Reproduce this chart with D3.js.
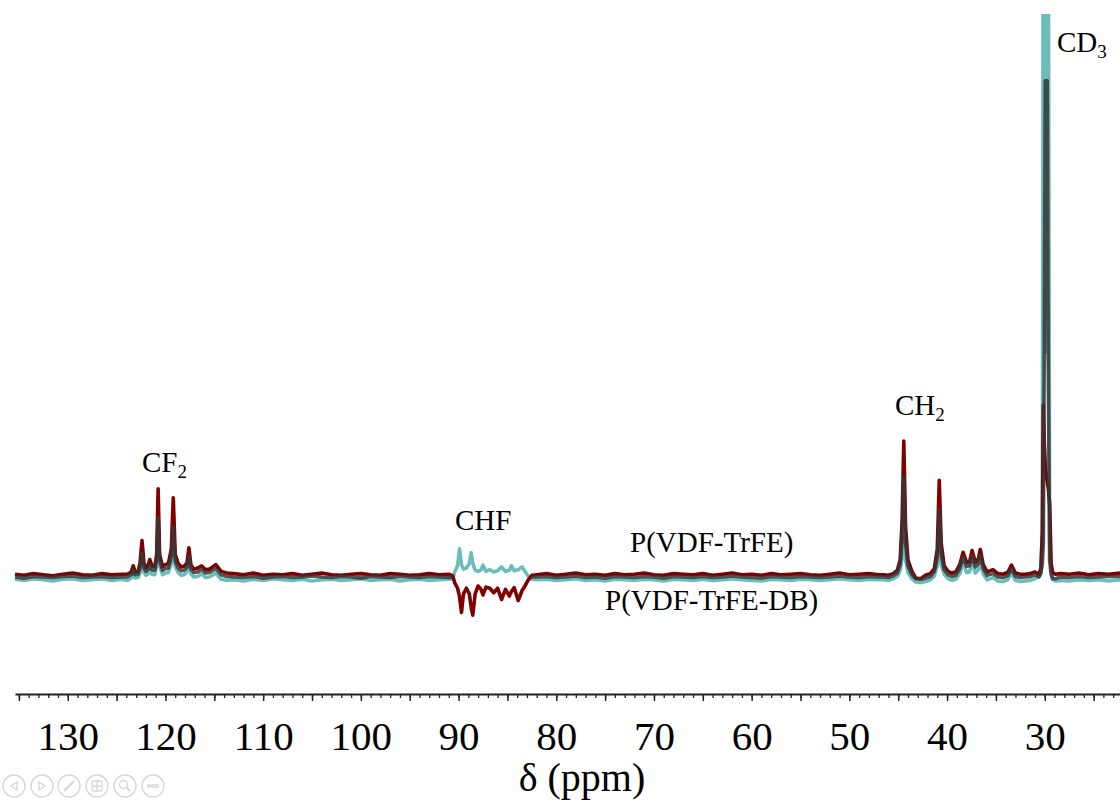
<!DOCTYPE html>
<html lang="en">
<head>
  <meta charset="UTF-8">
  <title>13C NMR P(VDF-TrFE)</title>
  <script src="https://cdn.jsdelivr.net/npm/d3@7"></script>
  <style>
    body { margin: 0; background: #fff; }
    text { font-family: "Liberation Serif", "Times New Roman", serif; fill: #000; }
  </style>
</head>
<body>
  <script>
    const W = 1120, H = 803;

    // chemical shift grid (ppm), shared by the three traces
    const ppm = [
      135.4, 134.5, 133.5, 132.5, 131.5, 130.5, 129.5, 128.5, 127.5, 126.5, 125.5, 124.5,
      123.9, 123.5, 123.3, 123.1, 122.8, 122.6, 122.4, 122.2, 122.0, 121.8, 121.6, 121.4, 121.1, 120.9, 120.75, 120.6, 120.3, 120.0, 119.7, 119.4, 119.2, 119.0, 118.7, 118.4, 118.1, 117.8, 117.6, 117.4, 117.1, 116.7, 116.3, 115.9, 115.5, 114.85, 114.3, 113.7,
      113, 112, 111, 110, 109, 108, 107, 106, 105, 104, 103, 102, 101, 100, 99, 98, 97, 96, 95, 94, 93, 92, 91,
      90.6, 90.4, 90.1, 89.9, 89.7, 89.5, 89.2, 88.9, 88.7, 88.55, 88.3, 88.0, 87.7, 87.5, 87.2, 86.8, 86.4, 86.0, 85.6, 85.2, 84.8, 84.6, 84.3, 83.9, 83.5, 83.2, 82.9, 82.5,
      82, 81, 80, 79, 78, 77, 76, 75, 74, 73, 72, 71, 70, 69, 68, 67, 66, 65, 64, 63, 62, 61, 60, 59, 58, 57, 56, 55, 54, 53, 52, 51, 50, 49, 48, 47,
      46.5, 46.0, 45.5, 45.1, 44.8, 44.6, 44.43, 44.25, 44.0, 43.6, 43.2, 42.7, 42.2, 41.7, 41.3, 41.0, 40.8, 40.6, 40.3, 39.9, 39.5, 39.1, 38.7, 38.36, 38.0, 37.7, 37.44, 37.1, 36.8, 36.6, 36.3, 35.9, 35.3, 34.8, 34.3, 33.8, 33.4, 33.0, 32.5, 32.0, 31.5, 31.0,
      30.6, 30.4, 30.25, 30.15, 30.05, 29.95, 29.85, 29.75, 29.65, 29.5, 29.35, 29.2, 28.9,
      28.4, 27.5, 26.5, 25.5, 24.5, 23.5, 22.2
    ];

    // P(VDF-TrFE) trace (teal)
    const tealVals = [
      -0.4, -0.6, -0.3, -0.5, -0.7, -0.4, -0.3, -0.6, -0.5, -0.3, -0.6, -0.4,
      -0.6, -0.2, 0.5, -0.2, -0.1, 0.8, 3.0, 0.8, 0.3, 0.5, 1.4, 0.5, 0.4, 2.0, 7.5, 2.0, 0.4, 0.7, 0.8, 2.4, 6.5, 1.8, 0.8, 0.3, 0.4, 0.9, 2.6, 0.6, 0.0, 0.1, 0.6, -0.1, 0.0, 0.7, -0.4, -0.6,
      -0.5, -0.7, -0.4, -0.6, -0.3, -0.5, -0.6, -0.4, -0.7, -0.5, -0.4, -0.6, -0.5, -0.3, -0.6, -0.5, -0.4, -0.7, -0.5, -0.4, -0.6, -0.5, -0.4,
      -0.3, 0.9, 2.0, 5.0, 2.2, 1.4, 1.6, 2.4, 4.3, 2.5, 1.2, 1.0, 1.3, 2.1, 1.0, 1.3, 0.9, 1.1, 1.8, 1.0, 1.2, 2.0, 1.1, 1.3, 1.8, 1.0, 0.2, -0.4,
      -0.5, -0.4, -0.6, -0.5, -0.3, -0.6, -0.5, -0.7, -0.4, -0.5, -0.6, -0.4, -0.5, -0.7, -0.4, -0.5, -0.6, -0.4, -0.6, -0.5, -0.3, -0.5, -0.6, -0.7, -0.4, -0.5, -0.6, -0.4, -0.5, -0.6, -0.5, -0.3, -0.5, -0.6, -0.4, -0.5,
      -0.5, -0.6, -0.3, 0.1, 1.2, 3.5, 7.0, 3.0, 0.8, -0.3, -0.9, -1.0, -0.8, -0.5, 0.2, 2.0, 6.0, 2.2, 0.5, -0.3, -0.6, -0.4, 0.6, 2.6, 0.8, 0.9, 2.7, 0.7, 1.3, 2.8, 0.5, -0.5, -0.1, -0.7, -0.8, -0.5, 0.7, -0.6, -0.8, -0.7, -0.6, -0.3,
      0.2, 1.0, 8, 130, 130, 40, 130, 130, 130, 6, 1.0, -0.4, -0.7,
      -0.6, -0.7, -0.5, -0.6, -0.5, -0.7, -0.5
    ];

    // P(VDF-TrFE-DB) trace (dark red)
    const redVals = [
      0.5, 0.3, 0.6, 0.4, 0.2, 0.5, 0.7, 0.4, 0.3, 0.6, 0.4, 0.5,
      0.5, 0.9, 2.0, 0.9, 1.0, 2.5, 6.5, 2.4, 1.6, 2.0, 3.1, 2.0, 1.8, 4.0, 15.7, 4.0, 1.9, 2.2, 2.4, 5.0, 14.1, 4.0, 2.4, 1.8, 1.9, 2.5, 5.2, 2.2, 1.4, 1.6, 2.0, 1.3, 1.4, 2.2, 1.0, 0.7,
      0.6, 0.4, 0.7, 0.3, 0.5, 0.4, 0.6, 0.3, 0.5, 0.7, 0.4, 0.3, 0.5, 0.6, 0.4, 0.3, 0.6, 0.5, 0.3, 0.4, 0.6, 0.4, 0.5,
      0.2, -1.0, -2.0, -3.5, -6.3, -3.0, -2.0, -3.0, -5.5, -6.8, -3.0, -1.6, -2.2, -3.2, -1.8, -2.0, -2.8, -2.0, -4.0, -2.2, -3.4, -2.6, -1.9, -4.2, -2.4, -1.6, -0.6, 0.3,
      0.4, 0.6, 0.3, 0.5, 0.7, 0.4, 0.5, 0.3, 0.6, 0.4, 0.5, 0.7, 0.4, 0.3, 0.6, 0.5, 0.4, 0.6, 0.3, 0.5, 0.7, 0.4, 0.5, 0.3, 0.6, 0.4, 0.5, 0.6, 0.4, 0.3, 0.5, 0.7, 0.4, 0.5, 0.6, 0.4,
      0.4, 0.3, 0.6, 1.2, 3.0, 10, 24.2, 9, 3.0, 1.0, -0.2, -0.3, 0.3, 0.6, 1.5, 5.0, 17.2, 6, 2.0, 1.0, 0.7, 0.9, 2.2, 4.4, 2.6, 2.7, 4.7, 2.6, 3.2, 4.9, 2.2, 0.9, 1.3, 0.6, 0.5, 0.8, 2.1, 0.7, 0.5, 0.5, 0.6, 0.9,
      0.5, 1.5, 8, 30.6, 24, 20, 18, 17, 16, 13, 2.5, 0.8, 0.5,
      0.6, 0.5, 0.7, 0.4, 0.6, 0.5, 0.7
    ];

    // third (dark grey) trace, no data across the CHF band
    const _ = null;
    const greyVals = [
      0.0, -0.2, 0.1, 0.0, -0.1, 0.1, 0.2, -0.1, 0.0, 0.1, -0.1, 0.0,
      0.0, 0.4, 1.3, 0.4, 0.5, 1.6, 4.2, 1.6, 1.0, 1.3, 2.3, 1.3, 1.2, 3.0, 10.6, 3.0, 1.2, 1.5, 1.6, 3.6, 9.0, 2.8, 1.6, 1.1, 1.2, 1.7, 3.7, 1.4, 0.8, 0.9, 1.4, 0.7, 0.8, 1.5, 0.4, 0.1,
      0.0, -0.1, 0.1, -0.2, 0.0, 0.1, -0.1, 0.0, 0.2, 0.0, -0.1, 0.1, 0.0, -0.2, 0.1, 0.0, -0.1, 0.1, 0.0, -0.1, 0.1, 0.0, -0.1,
      0.0, _, _, _, _, _, _, _, _, _, _, _, _, _, _, _, _, _, _, _, _, _, _, _, _, _, _, 0.0,
      0.0, 0.1, -0.1, 0.0, 0.2, -0.1, 0.0, -0.2, 0.1, 0.0, -0.1, 0.1, 0.0, -0.2, 0.1, 0.0, -0.1, 0.1, -0.1, 0.0, 0.2, 0.0, -0.1, -0.2, 0.1, 0.0, -0.1, 0.1, 0.0, -0.1, 0.0, 0.2, 0.0, -0.1, 0.1, 0.0,
      0.0, -0.1, 0.2, 0.7, 2.2, 7, 17.8, 6, 2.0, 0.4, -0.3, -0.4, -0.2, 0.1, 1.0, 3.5, 12.0, 4, 1.3, 0.4, 0.1, 0.3, 1.5, 3.6, 1.9, 2.0, 3.8, 1.8, 2.4, 3.9, 1.5, 0.3, 0.6, 0.0, -0.1, 0.2, 1.4, 0.1, -0.1, 0.0, 0.1, 0.4,
      0.0, 0.6, 2.5, 6, 40, 88.3, 88.3, 88.3, 40, 3, 0.5, -0.3, -0.3,
      0.0, -0.1, 0.1, -0.1, 0.0, 0.1, 0.1
    ];

    const labelTicks = [130, 120, 110, 100, 90, 80, 70, 60, 50, 40, 30];

    [tealVals, redVals, greyVals].forEach(v => {
      if (v.length !== ppm.length) throw new Error("length mismatch " + v.length + " vs " + ppm.length);
    });

    const svg = d3.select("body").append("svg")
      .attr("width", W)
      .attr("height", H);

    const x = d3.scaleLinear().domain([135.4, 22.3]).range([15, 1120]);
    const y = d3.scaleLinear().domain([0, 100]).range([577, 15]);

    svg.append("clipPath").attr("id", "plot")
      .append("rect").attr("x", 0).attr("y", 14).attr("width", W).attr("height", 676);

    const line = d3.line()
      .defined(d => d[1] != null)
      .x(d => x(d[0]))
      .y(d => y(d[1]));

    const traces = [
      { vals: tealVals, color: "#6cbcbc", opacity: 1 },
      { vals: redVals, color: "#800000", opacity: 1 },
      { vals: greyVals, color: "#363636", opacity: 0.85 }
    ];

    svg.append("g").attr("clip-path", "url(#plot)")
      .selectAll("path")
      .data(traces)
      .enter()
      .append("path")
      .attr("d", t => line(ppm.map((p, i) => [p, t.vals[i]])))
      .attr("fill", "none")
      .attr("stroke", t => t.color)
      .attr("stroke-opacity", t => t.opacity)
      .attr("stroke-width", 3.6)
      .attr("stroke-linejoin", "round");

    // x axis: minor ticks every 1 ppm, longer every 5, labels every 10
    const axisY = 694;
    svg.append("g")
      .attr("transform", `translate(0, ${axisY})`)
      .call(d3.axisBottom(x).tickValues(d3.range(23, 136)).tickSize(4).tickSizeOuter(0).tickFormat(""))
      .call(g => g.selectAll("line").attr("stroke", "#222").attr("stroke-width", 1.3))
      .call(g => g.select(".domain").attr("stroke", "#222").attr("stroke-width", 1.8));

    svg.append("g")
      .attr("transform", `translate(0, ${axisY})`)
      .call(d3.axisBottom(x).tickValues(d3.range(25, 136, 5)).tickSize(7).tickFormat(""))
      .call(g => g.select(".domain").remove())
      .call(g => g.selectAll("line").attr("stroke", "#222").attr("stroke-width", 1.5));

    svg.append("g")
      .attr("transform", `translate(0, ${axisY})`)
      .call(d3.axisBottom(x).tickValues(labelTicks).tickSize(0).tickPadding(27))
      .call(g => g.select(".domain").remove())
      .call(g => g.selectAll("text")
        .attr("font-family", "'Liberation Serif', 'Times New Roman', serif")
        .attr("font-size", 41)
        .attr("fill", "#000"));

    svg.append("text")
      .attr("x", 582).attr("y", 791)
      .attr("text-anchor", "middle")
      .attr("font-size", 40)
      .text("δ (ppm)");

    // peak annotations
    function label(px, py, main, sub) {
      const t = svg.append("text").attr("x", px).attr("y", py).attr("font-size", 29);
      t.append("tspan").text(main);
      if (sub) t.append("tspan").attr("font-size", 19).attr("dy", 6).text(sub);
    }
    label(142, 472, "CF", "2");
    label(455, 530, "CHF");
    label(895, 415, "CH", "2");
    label(1057, 52, "CD", "3");
    label(630, 552, "P(VDF-TrFE)");
    label(605, 610, "P(VDF-TrFE-DB)");

    // faint slideshow control icons, bottom left
    const icons = svg.append("g")
      .attr("fill", "none")
      .attr("stroke", "#d6d6d6")
      .attr("stroke-width", 1.3);
    const cxs = [14, 42, 69, 97, 125, 153], cy = 786;
    cxs.forEach(cx => icons.append("circle").attr("cx", cx).attr("cy", cy).attr("r", 11));
    icons.append("path").attr("d", `M${cxs[0] + 3},${cy - 4} L${cxs[0] - 3},${cy} L${cxs[0] + 3},${cy + 4} Z`);
    icons.append("path").attr("d", `M${cxs[1] - 3},${cy - 4} L${cxs[1] + 3},${cy} L${cxs[1] - 3},${cy + 4} Z`);
    icons.append("path").attr("d", `M${cxs[2] - 5},${cy + 5} L${cxs[2] + 5},${cy - 5}`).attr("stroke-width", 2.2);
    icons.append("rect").attr("x", cxs[3] - 5).attr("y", cy - 5).attr("width", 10).attr("height", 10).attr("rx", 1.5);
    icons.append("path").attr("d", `M${cxs[3] - 5},${cy} H${cxs[3] + 5} M${cxs[3]},${cy - 5} V${cy + 5}`);
    icons.append("circle").attr("cx", cxs[4] - 1.5).attr("cy", cy - 1.5).attr("r", 4);
    icons.append("path").attr("d", `M${cxs[4] + 1.5},${cy + 1.5} L${cxs[4] + 5},${cy + 5}`).attr("stroke-width", 2);
    [-4, 0, 4].forEach(d => icons.append("circle").attr("cx", cxs[5] + d).attr("cy", cy).attr("r", 1.4));
  </script>
</body>
</html>
